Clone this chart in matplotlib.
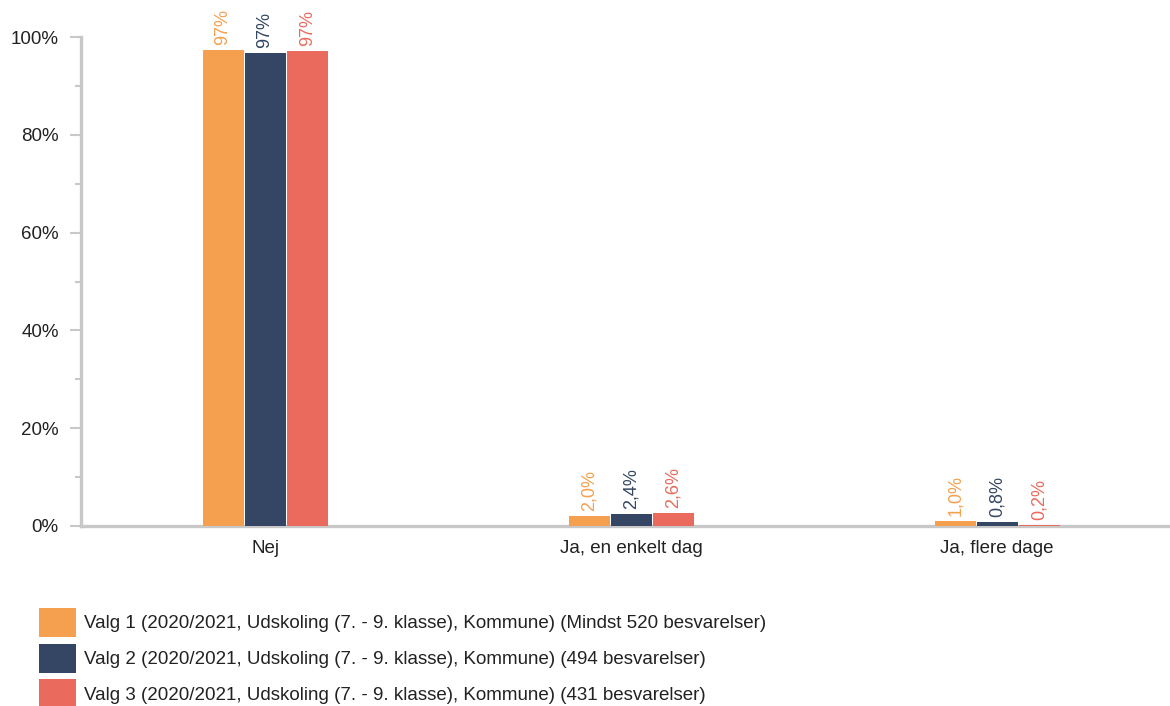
import matplotlib.pyplot as plt
import numpy as np
from matplotlib.patches import Patch
from matplotlib.ticker import MultipleLocator, FuncFormatter

# Data
categories = ['Nej', 'Ja, en enkelt dag', 'Ja, flere dage']
valg1 = [97.3, 2.0, 1.0]
valg2 = [96.8, 2.4, 0.8]
valg3 = [97.2, 2.6, 0.2]
series_names = [
    'Valg 1 (2020/2021, Udskoling (7. - 9. klasse), Kommune) (Mindst 520 besvarelser)',
    'Valg 2 (2020/2021, Udskoling (7. - 9. klasse), Kommune) (494 besvarelser)',
    'Valg 3 (2020/2021, Udskoling (7. - 9. klasse), Kommune) (431 besvarelser)',
]
colors = ['#F4A04F', '#354664', '#EA6A5E']

plt.rcParams['font.family'] = ['Liberation Sans', 'DejaVu Sans']

fig = plt.figure(figsize=(11.7, 7.06), dpi=100)
ax = fig.add_axes([81 / 1170, 1 - 526 / 706, 1 - 81 / 1170, (526 - 37) / 706])

def fmt_label(v):
    if v >= 10:
        return f'{v:.0f}%'
    return f'{v:.1f}%'.replace('.', ',')

x = np.arange(len(categories))
width = 0.112
all_series = [valg1, valg2, valg3]
for i, (vals, col) in enumerate(zip(all_series, colors)):
    pos = x + (i - 1) * (width + 0.003)
    bars = ax.bar(pos, vals, width=width, color=col, zorder=3, clip_on=False)
    for b, v in zip(bars, vals):
        ax.text(b.get_x() + b.get_width() / 2, v + 1.0, fmt_label(v),
                rotation=90, ha='center', va='bottom', color=col, fontsize=13)

ax.set_xlim(-0.503, 2.472)
ax.set_ylim(0, 100)

ax.yaxis.set_major_locator(MultipleLocator(20))
ax.yaxis.set_minor_locator(MultipleLocator(10))
ax.yaxis.set_major_formatter(FuncFormatter(lambda v, p: f'{v:.0f}%'))
ax.set_xticks(x)
ax.set_xticklabels(categories)

for side in ['top', 'right']:
    ax.spines[side].set_visible(False)
for side in ['left', 'bottom']:
    ax.spines[side].set_color('#c8c8c8')
    ax.spines[side].set_linewidth(2.4)
    ax.spines[side].set_zorder(2)

ax.tick_params(axis='y', which='major', length=8, width=1.5, color='#c8c8c8',
               labelsize=13.5, labelcolor='#222222', pad=8)
ax.tick_params(axis='y', which='minor', length=4, width=1.5, color='#c8c8c8')
ax.tick_params(axis='x', length=0, labelsize=13.5, labelcolor='#222222', pad=10)

handles = [Patch(facecolor=c, edgecolor='none') for c in colors]
fig.legend(handles, series_names, loc='upper left',
           bbox_to_anchor=(39 / 1170, 1 - 608 / 706), frameon=False,
           fontsize=13.5, handlelength=1.97, handleheight=2.0,
           handletextpad=0.43, labelspacing=0.35, borderpad=0, borderaxespad=0,
           labelcolor='#222222')

fig.savefig('out.png', dpi=100)
